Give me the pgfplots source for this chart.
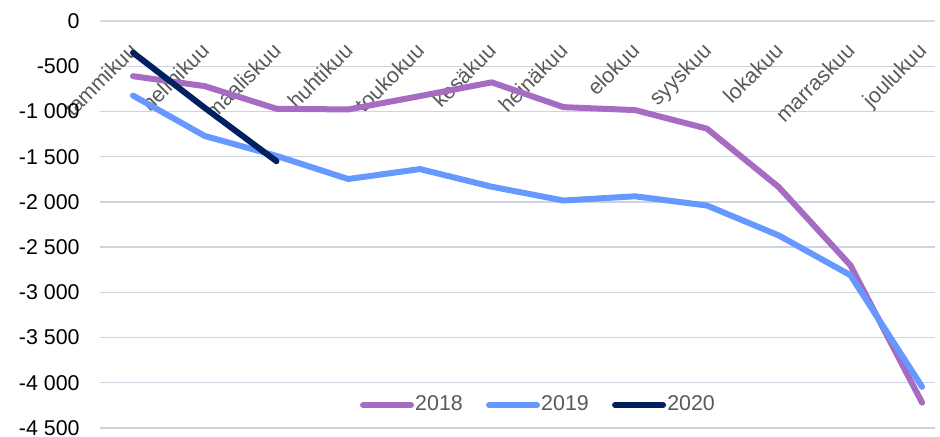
\documentclass[border=0pt]{standalone}
\usepackage{fontspec}
\setmainfont{Liberation Sans}
\usepackage{pgfplots}
\pgfplotsset{compat=1.18}
\definecolor{c2018}{HTML}{A56CC1}
\definecolor{c2019}{HTML}{6699FF}
\definecolor{c2020}{HTML}{002060}
\definecolor{gridc}{HTML}{CBD5E0}
\definecolor{zeroc}{HTML}{D9D9D9}
\definecolor{txt}{HTML}{595959}

\begin{document}
\begin{tikzpicture}
\useasboundingbox (-50pt,-4pt) rectangle (420pt,214pt);
\begin{axis}[
  at={(0,0)}, anchor=south west,
  scale only axis, width=417.5pt, height=203.5pt,
  xmin=-0.46, xmax=11.18, ymin=-4500, ymax=0,
  clip=false, no markers,
  axis line style={draw=none},
  tick style={draw=none},
  ytick={-4500,-4000,...,0},
  yticklabels={-4 500,-4 000,-3 500,-3 000,-2 500,-2 000,-1 500,-1 000,-500,0},
  xtick={0,...,11},
  xticklabels={tammikuu,helmikuu,maaliskuu,huhtikuu,toukokuu,kesäkuu,heinäkuu,elokuu,syyskuu,lokakuu,marraskuu,joulukuu},
  xticklabel pos=upper,
  ymajorgrids, grid style={gridc, line width=0.7pt},
  yticklabel style={font=\fontsize{10.7}{12.8}\selectfont, text=black, inner sep=0pt, anchor=east, xshift=-10pt},
  xticklabel style={font=\fontsize{10.7}{12.8}\selectfont, text=txt, inner sep=0pt, xshift=3pt, yshift=-15.5pt, rotate=45, anchor=base east},
  legend style={at={(0.5246,0.0565)}, anchor=center, draw=none, fill=none,
    font=\fontsize{10.7}{12.8}\selectfont, text=txt, legend columns=-1,
    nodes={inner sep=0.6pt},
    /tikz/every even column/.append style={column sep=11pt}},
  legend image code/.code={\draw[#1, line width=3pt, line cap=round] (1.5pt,0pt) -- (25.5pt,0pt);},
]
\draw[zeroc, line width=1pt] (rel axis cs:0,1) -- (rel axis cs:1,1);

\addplot[c2018, line width=3pt, line join=round, line cap=round] coordinates {
(0,-610) (1,-720) (2,-970) (3,-978) (4,-830) (5,-678) (6,-952) (7,-985) (8,-1190) (9,-1835) (10,-2700) (11,-4220)};
\addlegendentry{2018}
\addplot[c2019, line width=3pt, line join=round, line cap=round] coordinates {
(0,-824) (1,-1271) (2,-1491) (3,-1747) (4,-1637) (5,-1832) (6,-1985) (7,-1938) (8,-2040) (9,-2370) (10,-2810) (11,-4045)};
\addlegendentry{2019}
\addplot[c2020, line width=3pt, line join=round, line cap=round] coordinates {
(0,-350) (1,-960) (2,-1550)};
\addlegendentry{2020}
\end{axis}
\end{tikzpicture}
\end{document}
